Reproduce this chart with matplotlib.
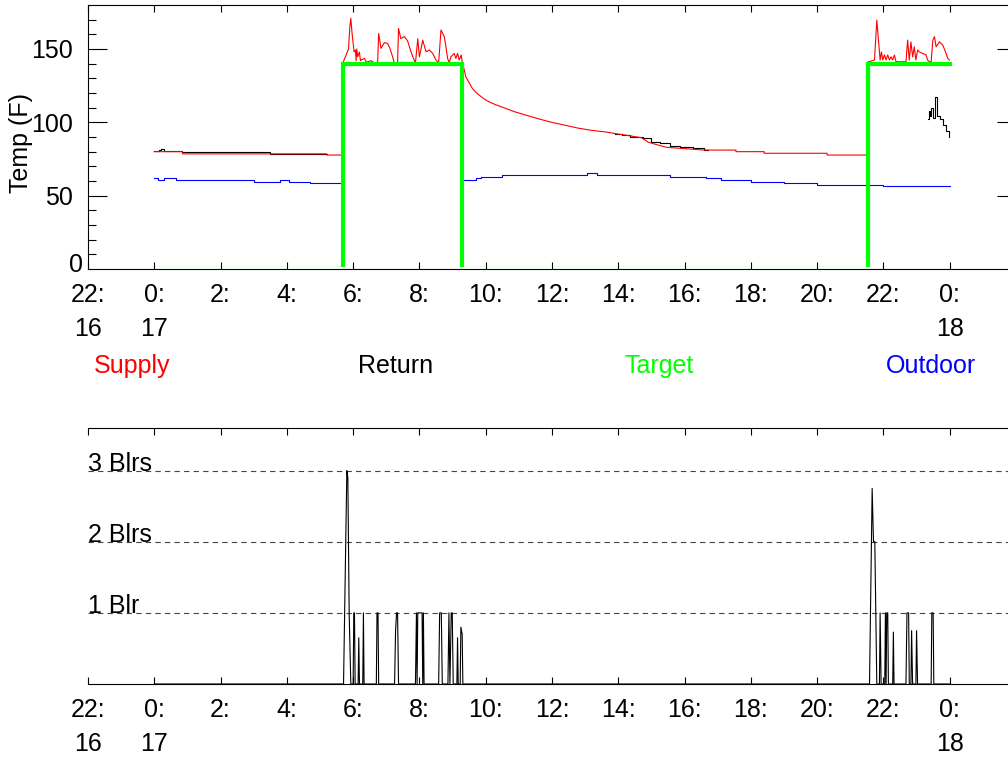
import numpy as np
import matplotlib.pyplot as plt
from matplotlib.patches import Rectangle

plt.rcParams['font.family'] = ['Liberation Sans', 'DejaVu Sans']

# time axis: hours after 0:00 on the 17th
supply_t = [0.00, 0.85, 0.85, 5.20, 5.20, 5.70,
            5.70, 5.86, 5.90, 5.93, 5.97, 6.03, 6.07, 6.09, 6.11, 6.14, 6.19, 6.22,
            6.24, 6.34, 6.40, 6.44, 6.54, 6.64, 6.74, 6.77, 6.84, 6.94, 7.04, 7.11, 7.19,
            7.24, 7.34, 7.37, 7.44, 7.54, 7.64, 7.75, 7.82, 7.88, 7.95, 8.00, 8.10, 8.20,
            8.30, 8.40, 8.50, 8.58, 8.65, 8.75, 8.80, 8.85, 8.90, 8.95, 9.05, 9.10,
            9.15, 9.20, 9.26, 9.30,
            9.35, 9.40, 9.50, 9.60, 9.70, 9.80, 9.95, 10.10, 10.30, 10.60, 10.90,
            11.20, 11.50, 11.90, 12.30, 12.80, 13.20, 13.60, 14.00, 14.30, 14.70,
            14.90, 15.20, 15.45, 15.90, 16.60, 17.55, 17.55, 18.40, 18.40, 20.30, 20.30,
            21.52,
            21.52, 21.73, 21.80, 21.86, 21.90, 21.94, 21.98, 22.03, 22.08, 22.13,
            22.18, 22.23, 22.28, 22.33, 22.38, 22.68, 22.73, 22.78, 22.83, 22.88, 22.93,
            22.98, 23.03, 23.08, 23.18, 23.29, 23.33, 23.39, 23.44, 23.49, 23.54, 23.59,
            23.69, 23.79, 23.89, 23.94, 23.99]
supply_f = [80.0, 80.0, 78.5, 78.5, 77.7, 77.7,
            141, 150, 165, 171, 160, 148, 149.3, 142, 150, 144.7, 147.9, 142,
            142.5, 143.6, 141, 141.3, 142, 140.5, 141, 160.6, 150.4, 154.3, 153.8, 150.4, 144.7,
            140.5, 140.5, 164, 157, 158.5, 155.7, 147.9, 143.6, 140.5, 157, 144.7, 156, 148.1,
            149.3, 147, 142.5, 140.5, 163, 158.4, 151.5, 143.6, 140.5, 144.7, 147, 143.6,
            147, 142.5, 145.9, 140,
            136, 131, 127, 123, 120.5, 118.6, 116, 114, 112, 109.5, 107,
            105, 103, 100.5, 98.5, 96, 94.5, 93.5, 92, 91, 89.5,
            86.5, 84.5, 83, 82.2, 81.1, 81.1, 80, 80, 78.9, 78.9, 77.7,
            77.7,
            141, 142.5, 169.7, 153.8, 142.5, 148, 142.5, 146, 142.5, 146,
            142.5, 144.7, 142.5, 145.9, 141.3, 141.3, 156.1, 142.5, 154.9, 144.7, 151.5,
            142.5, 149.3, 148.1, 147, 145.9, 142.5, 141.3, 141.3, 156.1, 158.4, 151.5,
            154.9, 152.7, 147, 143.6, 142.5]

return_t = [0.00, 0.15, 0.20, 0.30, 0.85, 3.50, 5.20,
            13.90, 14.10, 14.35, 14.75, 15.00, 15.25, 15.55, 15.85, 16.25, 16.60, 16.70,
            23.33, 23.36, 23.40, 23.45, 23.50, 23.57, 23.63, 23.70, 23.80, 23.90, 23.97]
return_f = [80.6, 80.8, 81.8, 80.6, 79.6, 78.5, np.nan,
            92.0, 91.3, 90.2, 89.0, 86.8, 85.6, 83.8, 82.9, 82.2, 81.2, np.nan,
            102, 108, 104, 110, 103, 117.5, 104, 102, 98, 94, 90]

outdoor_t = [0.00, 0.10, 0.30, 0.65, 3.00, 3.80, 4.05, 4.70, 5.70,
             9.30, 9.70, 9.85, 10.50, 13.05, 13.35, 15.55, 16.65, 17.10, 18.00,
             19.00, 20.00, 22.00, 24.00]
outdoor_f = [61.8, 60.7, 61.8, 60.7, 59.5, 60.7, 59.5, 58.4, np.nan,
             60.7, 61.8, 62.9, 64.1, 65.2, 64.1, 62.9, 61.8, 60.7, 59.5,
             58.4, 57.3, 56.6, 56.6]

target_t = [0.00, 5.70, 9.29, 21.52, 24.00]
target_f = [0, 140, 0, 140, 140]

boiler_t = [0.00, 5.71, 5.81, 5.84, 5.88, 5.93, 6.00, 6.02, 6.04, 6.06, 6.15, 6.17, 6.19,
            6.29, 6.31, 6.33, 6.70, 6.72, 6.75, 6.77, 7.25, 7.28, 7.31, 7.34, 7.37,
            7.88, 7.91, 7.93, 7.95, 8.08, 8.10, 8.12, 8.14, 8.58, 8.61, 8.66, 8.69,
            8.86, 8.89, 8.92, 8.96, 8.99, 9.02, 9.13, 9.15, 9.17, 9.23, 9.25, 9.29, 9.31,
            21.58, 21.66, 21.70, 21.74, 21.80, 21.88, 21.90, 21.93, 22.04, 22.06, 22.08,
            22.10, 22.13, 22.15, 22.28, 22.30, 22.32, 22.68, 22.71, 22.76, 22.78,
            22.83, 22.85, 22.88, 22.98, 23.00, 23.03, 23.44, 23.46, 23.50, 23.52, 24.00]
boiler_n = [0, 0, 3, 2.9, 1, 0, 0, 1, 1, 0, 0, 0.65, 0,
            0, 1, 0, 0, 1, 1, 0, 0, 0.75, 1, 1, 0,
            0, 1, 0, 1, 1, 0, 1, 0, 0, 1, 1, 0,
            0, 1, 0, 1, 1, 0, 0, 0.65, 0, 0, 0.8, 0.7, 0,
            0, 2.75, 2, 2, 0, 0, 1, 0, 0, 1, 0,
            1, 1, 0, 0, 0.73, 0, 0, 1, 1, 0,
            0, 0.75, 0, 0, 0.75, 0, 0, 1, 1, 0, 0]

hour_ticks = np.arange(-2, 25, 2)
hour_labels = ['22:\n16', '0:\n17'] + ['%d:' % h for h in range(2, 24, 2)] + ['0:\n18']

boiler_levels = [1, 2, 3]
boiler_names = ['1 Blr', '2 Blrs', '3 Blrs']

FS = 18
W, H = 1008, 757

fig = plt.figure(figsize=(W / 100, H / 100), dpi=100)

# --- temperatures ---
ax1 = fig.add_axes([88 / W, (H - 269) / H, 928 / W, 264 / H])
ax1.plot(return_t, return_f, color='black', lw=0.8, drawstyle='steps-post')
ax1.plot(supply_t, supply_f, color='red', lw=0.8)
ax1.plot(outdoor_t, outdoor_f, color='blue', lw=0.8, drawstyle='steps-post')
tline, = ax1.plot(target_t, target_f, color='#00ff00', lw=3.0,
                  drawstyle='steps-post', solid_joinstyle='miter')
tline.set_clip_path(Rectangle((-2, 1.5), 28, 200, transform=ax1.transData))

ax1.set_xlim(-2, 26)
ax1.set_ylim(0, 180)
ax1.set_yticks([50, 100, 150])
ax1.set_yticks(np.arange(10, 180, 10), minor=True)
ax1.tick_params(axis='y', which='major', direction='in', length=13.5, width=0.8,
                right=True, labelsize=FS, pad=11)
ax1.tick_params(axis='y', which='minor', direction='in', length=6, width=0.8, right=True)
ax1.annotate('0', xy=(0, 0), xycoords='axes fraction', xytext=(-5, 4),
             textcoords='offset pixels', ha='right', va='center', fontsize=FS)
ax1.set_xticks(hour_ticks)
ax1.set_xticklabels(hour_labels, linespacing=1.55)
ax1.tick_params(axis='x', direction='in', length=5, width=0.8, top=True,
                labelsize=FS, pad=10)
fig.text(21 / W, 1 - 143 / H, 'Temp (F)', rotation=90, ha='center', va='center',
         fontsize=FS)

# legend row
for name, col, xc in [('Supply', 'red', 132), ('Return', 'black', 396),
                      ('Target', '#00ff00', 659), ('Outdoor', 'blue', 931)]:
    fig.text(xc / W, 1 - 366 / H, name, color=col, ha='center', va='center', fontsize=FS)

# --- boilers firing ---
ax2 = fig.add_axes([88 / W, (H - 684) / H, 928 / W, 256 / H])
for lvl, name in zip(boiler_levels, boiler_names):
    ax2.axhline(lvl, color='#444444', lw=0.8, ls=(0, (4.8, 3.8)))
    ax2.text(-2, lvl, name, ha='left', va='baseline', fontsize=FS)
ax2.plot(boiler_t, boiler_n, color='black', lw=0.8)
ax2.set_xlim(-2, 26)
ax2.set_ylim(0, 3.6)
ax2.set_yticks([])
ax2.spines['left'].set_visible(False)
ax2.spines['right'].set_visible(False)
ax2.set_xticks(hour_ticks)
ax2.set_xticklabels(hour_labels, linespacing=1.55)
ax2.tick_params(axis='x', direction='in', length=5, width=0.8, top=True,
                labelsize=FS, pad=10)

fig.savefig('out.png', dpi=100)
